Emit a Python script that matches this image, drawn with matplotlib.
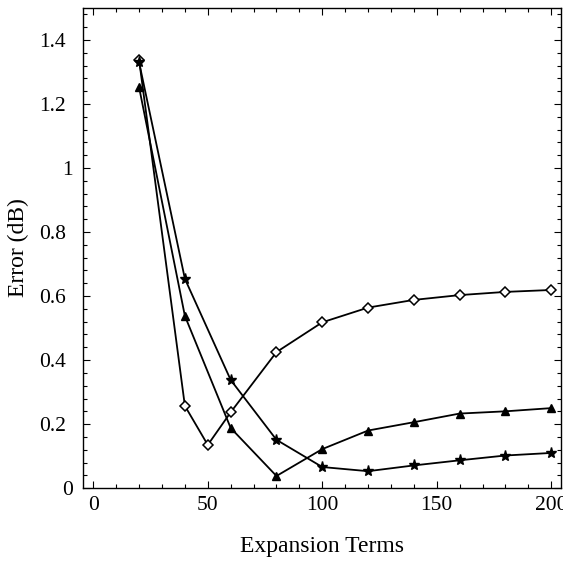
import matplotlib.pyplot as plt
import matplotlib.transforms as mtransforms
import numpy as np

plt.rcParams['font.family'] = ['Liberation Serif', 'DejaVu Serif']

# Error curves against number of expansion terms
terms_diamond = [20, 40, 50, 60, 80, 100, 120, 140, 160, 180, 200]
err_diamond = [1.338, 0.257, 0.135, 0.237, 0.425, 0.518, 0.564, 0.588, 0.603, 0.613, 0.619]

terms = [20, 40, 60, 80, 100, 120, 140, 160, 180, 200]
err_triangle = [1.252, 0.538, 0.188, 0.038, 0.122, 0.18, 0.206, 0.233, 0.24, 0.25]
err_star = [1.33, 0.654, 0.338, 0.151, 0.066, 0.053, 0.071, 0.087, 0.102, 0.11]

xticks = [0, 50, 100, 150, 200]
yticks = [0, 0.2, 0.4, 0.6, 0.8, 1.0, 1.2, 1.4]
ytick_labels = ['0', '0.2', '0.4', '0.6', '0.8', '1', '1.2', '1.4']

fig = plt.figure(figsize=(5.63, 5.65), dpi=100)
ax = fig.add_axes([0.147, 0.136, 0.850, 0.850])

ax.plot(terms_diamond, err_diamond, color='black', lw=1.3, marker='D',
        markersize=5, markerfacecolor='white', markeredgecolor='black', markeredgewidth=1.1)
ax.plot(terms, err_triangle, color='black', lw=1.3, marker='^',
        markersize=6, markerfacecolor='black', markeredgecolor='black')
ax.plot(terms, err_star, color='black', lw=1.3, marker='*',
        markersize=8, markerfacecolor='black', markeredgecolor='black')

ax.set_xlim(-4.6, 204.4)
ax.set_ylim(0, 1.5)
ax.set_xticks(xticks)
ax.set_xticks(np.arange(-0, 205, 10), minor=True)
ax.set_yticks(yticks)
ax.set_yticklabels(ytick_labels)
ax.set_yticks(np.arange(0, 1.5, 0.04), minor=True)

ax.tick_params(which='both', direction='in', top=True, right=True,
               labelsize=15.5, width=0.8)
ax.tick_params(axis='x', pad=6)
ax.tick_params(axis='y', pad=12)
ax.tick_params(which='major', length=5)
ax.tick_params(which='minor', length=3)
for s in ax.spines.values():
    s.set_linewidth(1.0)

# integer labels sit closer to the axis than the decimal ones
shift = mtransforms.ScaledTranslation(7 / 100, 0, fig.dpi_scale_trans)
for lbl in ax.get_yticklabels():
    if '.' not in lbl.get_text():
        lbl.set_transform(lbl.get_transform() + shift)

ax.set_xlabel('Expansion Terms', fontsize=17, labelpad=15)
ax.set_ylabel('Error (dB)', fontsize=17, labelpad=7)

fig.savefig('out.png', dpi=100)
